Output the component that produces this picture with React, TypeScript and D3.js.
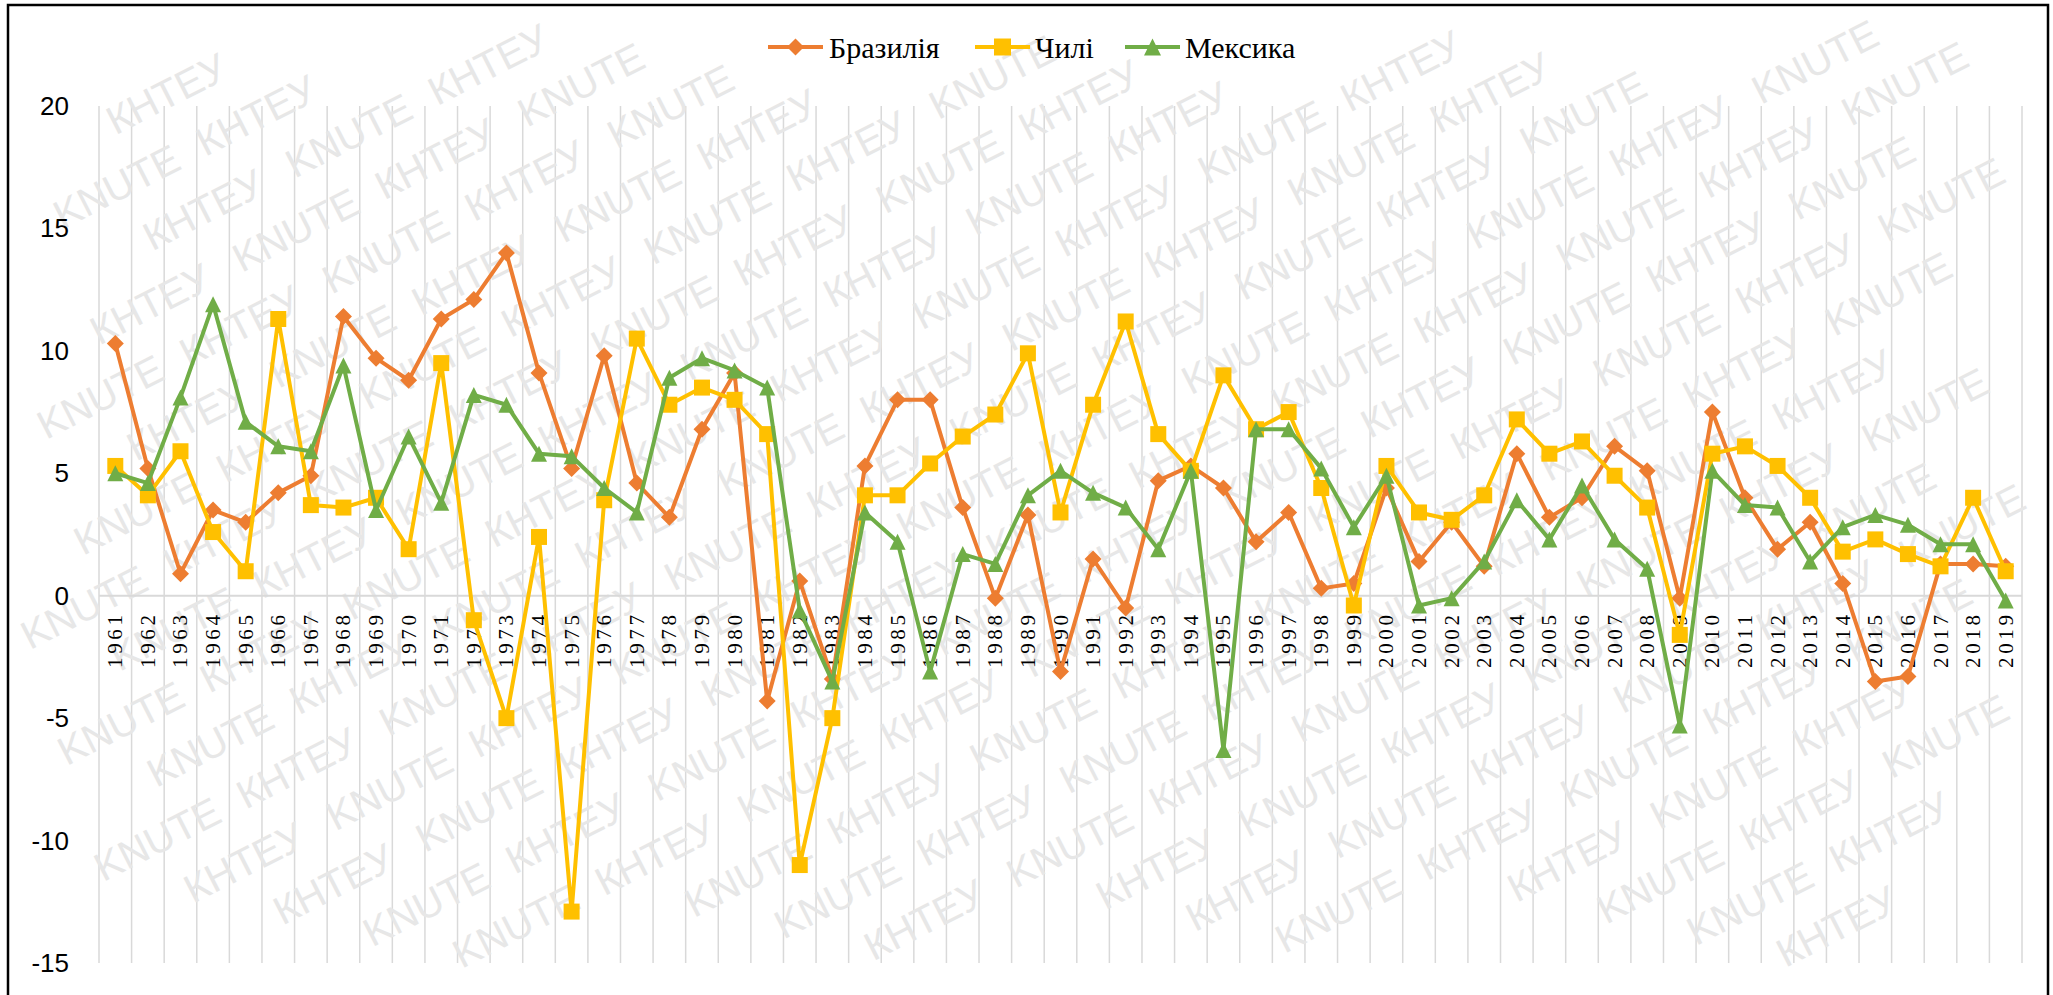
import React from "react";
import * as d3 from "d3";

const years: string[] = d3.range(1961, 2020).map(String);

const brazil: number[] = [
  10.3, 5.2, 0.9, 3.5, 3.0, 4.2, 4.9, 11.4, 9.7, 8.8,
  11.3, 12.1, 14.0, 9.1, 5.2, 9.8, 4.6, 3.2, 6.8, 9.1,
  -4.3, 0.6, -3.4, 5.3, 8.0, 8.0, 3.6, -0.1, 3.3, -3.1,
  1.5, -0.5, 4.7, 5.3, 4.4, 2.2, 3.4, 0.3, 0.5, 4.4,
  1.4, 3.0, 1.2, 5.8, 3.2, 4.0, 6.1, 5.1, -0.1, 7.5,
  4.0, 1.9, 3.0, 0.5, -3.5, -3.3, 1.3, 1.3, 1.2,
];

const chile: number[] = [
  5.3, 4.1, 5.9, 2.6, 1.0, 11.3, 3.7, 3.6, 4.0, 1.9,
  9.5, -1.0, -5.0, 2.4, -12.9, 3.9, 10.5, 7.8, 8.5, 8.0,
  6.6, -11.0, -5.0, 4.1, 4.1, 5.4, 6.5, 7.4, 9.9, 3.4,
  7.8, 11.2, 6.6, 5.1, 9.0, 6.8, 7.5, 4.4, -0.4, 5.3,
  3.4, 3.1, 4.1, 7.2, 5.8, 6.3, 4.9, 3.6, -1.6, 5.8,
  6.1, 5.3, 4.0, 1.8, 2.3, 1.7, 1.2, 4.0, 1.0,
];

const mexico: number[] = [
  5.0, 4.6, 8.1, 11.9, 7.1, 6.1, 5.9, 9.4, 3.5, 6.5,
  3.8, 8.2, 7.8, 5.8, 5.7, 4.4, 3.4, 8.9, 9.7, 9.2,
  8.5, -0.6, -3.5, 3.4, 2.2, -3.1, 1.7, 1.3, 4.1, 5.1,
  4.2, 3.6, 1.9, 5.1, -6.3, 6.8, 6.8, 5.2, 2.8, 4.9,
  -0.4, -0.1, 1.4, 3.9, 2.3, 4.5, 2.3, 1.1, -5.3, 5.1,
  3.7, 3.6, 1.4, 2.8, 3.3, 2.9, 2.1, 2.1, -0.2,
];

const yTicks: number[] = [-15, -10, -5, 0, 5, 10, 15, 20];

const seriesNames: string[] = ["Бразилія", "Чилі", "Мексика"];
const seriesColors: string[] = ["#ED7D31", "#FFC000", "#70AD47"];
const seriesShapes: string[] = ["diamond", "square", "triangle"];
const watermarkWords: string[] = ["KNUTE", "КНТЕУ"];

const W = 2053;
const H = 995;
const M = { left: 99, right: 2022, top: 106, bottom: 963 };

function markerPath(shape: string, cx: number, cy: number, s: number): string {
  const h = s / 2;
  if (shape === "diamond") {
    return `M${cx},${cy - h}L${cx + h},${cy}L${cx},${cy + h}L${cx - h},${cy}Z`;
  }
  if (shape === "square") {
    return `M${cx - h},${cy - h}L${cx + h},${cy - h}L${cx + h},${cy + h}L${cx - h},${cy + h}Z`;
  }
  return `M${cx},${cy - h}L${cx + h},${cy + h}L${cx - h},${cy + h}Z`;
}

export default function App() {
  const x = d3.scaleBand<string>().domain(years).range([M.left, M.right]).padding(0);
  const y = d3.scaleLinear().domain([-15, 20]).range([M.bottom, M.top]);
  const bw = x.bandwidth();
  const cx = (yr: string) => (x(yr) as number) + bw / 2;

  const data = [brazil, chile, mexico];
  const line = d3
    .line<number>()
    .x((_, i) => cx(years[i]))
    .y((v) => y(v));

  // watermark word grid in rotated frame
  const wmStep = 160;
  const wmRowGap = 60;
  const wmFont = 40;
  const wmW = 142;
  const ang = (-27 * Math.PI) / 180;
  const ox = W / 2 - 300;
  const oy = H / 2;
  const toPage = (px: number, py: number) => [
    ox + px * Math.cos(ang) - py * Math.sin(ang),
    oy + px * Math.sin(ang) + py * Math.cos(ang),
  ];
  const wm: { x: number; y: number; t: string; k: string }[] = [];
  for (let r = -22; r < 34; r++) {
    for (let c = -9; c < 17; c++) {
      const wx = c * wmStep + ((((r * 70) % wmStep) + wmStep) % wmStep);
      const wy = r * wmRowGap;
      const corners = [
        toPage(wx, wy + 12),
        toPage(wx + wmW, wy + 12),
        toPage(wx, wy - 34),
        toPage(wx + wmW, wy - 34),
      ];
      const inside = corners.every(([a, b]) => a > 14 && a < W - 10 && b > 10 && b < H - 12);
      if (inside) {
        wm.push({ x: wx, y: wy, t: watermarkWords[(((c + r) % 2) + 2) % 2], k: `${r}_${c}` });
      }
    }
  }

  const legendItems = [
    { lx: 768, tx: 829 },
    { lx: 975, tx: 1035 },
    { lx: 1125, tx: 1185 },
  ];
  const legendY = 47;

  return (
    <svg
      width={W}
      height={H}
      style={{ position: "absolute", left: 0, top: 0, display: "block", background: "#fff" }}
    >
      <rect x={0} y={0} width={W} height={H} fill="#fff" />

      {/* vertical gridlines */}
      <g stroke="#d9d9d9" strokeWidth={1.5}>
        {years.map((yr) => (
          <line key={yr} x1={x(yr)} x2={x(yr)} y1={M.top} y2={M.bottom} />
        ))}
        <line x1={M.right} x2={M.right} y1={M.top} y2={M.bottom} />
      </g>

      {/* watermark */}
      <g
        transform={`translate(${ox},${oy}) rotate(-27)`}
        fill="#e7e7e7"
        fontFamily="Liberation Sans, Arial, sans-serif"
        fontSize={wmFont}
      >
        {wm.map((w) => (
          <text key={w.k} x={w.x} y={w.y}>
            {w.t}
          </text>
        ))}
      </g>

      {/* zero line */}
      <line x1={M.left} x2={M.right} y1={y(0)} y2={y(0)} stroke="#d9d9d9" strokeWidth={2} />

      {/* y tick labels */}
      <g fontFamily="Liberation Sans, Arial, sans-serif" fontSize={26} fill="#000">
        {yTicks.map((t) => (
          <text key={t} x={69} y={y(t)} textAnchor="end" dominantBaseline="central">
            {t}
          </text>
        ))}
      </g>

      {/* x category labels */}
      <g fontFamily="Liberation Serif, 'Times New Roman', serif" fontSize={21} fill="#000">
        {years.map((yr) => (
          <text
            key={yr}
            transform={`translate(${cx(yr)},${668}) rotate(-90)`}
            x={0}
            y={0}
            textAnchor="start"
            dominantBaseline="central"
            textLength={53}
            lengthAdjust="spacing"
          >
            {yr}
          </text>
        ))}
      </g>

      {/* series */}
      {data.map((vals, si) => (
        <g key={si}>
          <path d={line(vals) || ""} fill="none" stroke={seriesColors[si]} strokeWidth={4} strokeLinejoin="round" />
          {vals.map((v, i) => (
            <path
              key={i}
              d={markerPath(seriesShapes[si], cx(years[i]), y(v), seriesShapes[si] === "diamond" ? 17 : 16)}
              fill={seriesColors[si]}
            />
          ))}
        </g>
      ))}

      {/* legend */}
      <g fontFamily="Liberation Serif, 'Times New Roman', serif" fontSize={30} fill="#000">
        {seriesNames.map((n, si) => (
          <g key={n}>
            <line
              x1={legendItems[si].lx}
              x2={legendItems[si].lx + 55}
              y1={legendY}
              y2={legendY}
              stroke={seriesColors[si]}
              strokeWidth={4}
            />
            <path
              d={markerPath(seriesShapes[si], legendItems[si].lx + 27.5, legendY, 17)}
              fill={seriesColors[si]}
            />
            <text x={legendItems[si].tx} y={legendY} dominantBaseline="central">
              {n}
            </text>
          </g>
        ))}
      </g>

      {/* outer border */}
      <rect x={8} y={5} width={2040} height={1100} fill="none" stroke="#000" strokeWidth={2.5} />
    </svg>
  );
}
